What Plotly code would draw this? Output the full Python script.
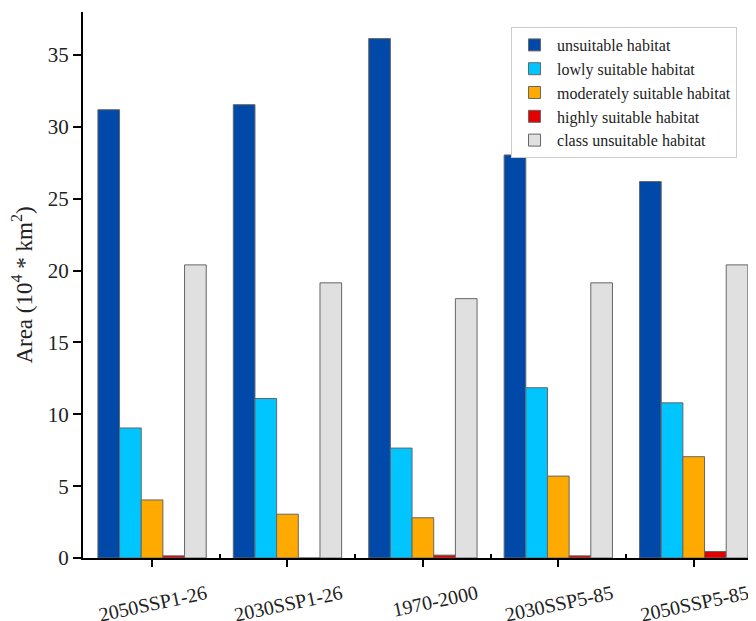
import plotly.graph_objects as go

categories = ["2050SSP1-26", "2030SSP1-26", "1970-2000", "2030SSP5-85", "2050SSP5-85"]
series_names = ["unsuitable habitat", "lowly suitable habitat", "moderately suitable habitat",
                "highly suitable habitat", "class unsuitable habitat"]
unsuitable = [31.2, 31.55, 36.15, 28.05, 26.2]
lowly = [9.05, 11.1, 7.65, 11.85, 10.8]
moderately = [4.04, 3.05, 2.8, 5.7, 7.05]
highly = [0.15, 0.0, 0.2, 0.15, 0.45]
class_unsuitable = [20.4, 19.15, 18.05, 19.15, 20.4]
y_ticks = [0, 5, 10, 15, 20, 25, 30, 35]

colors = ["#0049a8", "#00c5ff", "#ffaa00", "#e30000", "#e0e0e0"]
values = [unsuitable, lowly, moderately, highly, class_unsuitable]

xpos = list(range(len(categories)))
fig = go.Figure()
for name, vals, col in zip(series_names, values, colors):
    fig.add_trace(go.Bar(x=xpos, y=vals, name=name, marker=dict(color=col, line=dict(color="#666666", width=1))))

font = "Liberation Serif, Times New Roman, serif"
fig.update_layout(
    barmode="group", bargap=0.2, bargroupgap=0,
    width=756, height=621,
    margin=dict(l=75, r=8, t=4, b=71),
    plot_bgcolor="white", paper_bgcolor="white",
    font=dict(family=font, size=20, color="#222222"),
    showlegend=True,
    legend=dict(x=0.636, y=0.9725, xanchor="left", yanchor="top", bgcolor="white",
                bordercolor="#cccccc", borderwidth=1, font=dict(size=16, family=font),
                tracegroupgap=0, itemwidth=35),
    xaxis=dict(range=[-0.51, 4.46], tickmode="array", tickvals=xpos, ticktext=categories,
               tickangle=-12, ticks="outside", ticklen=7, tickwidth=2, tickcolor="black",
               showline=True, linecolor="black", linewidth=2, showgrid=False, zeroline=False,
               automargin=False, ticklabelshift=54, ticklabelstandoff=8,
               minor=dict(ticks="inside", tickmode="array", tickvals=[0.5, 1.5, 2.5, 3.5],
                          ticklen=4, tickwidth=2, tickcolor="black", showgrid=False),
               tickfont=dict(size=20, family=font)),
    yaxis=dict(range=[0, 38], tickmode="array", tickvals=y_ticks, ticks="outside", ticklen=8,
               tickwidth=2, tickcolor="black", showline=True, linecolor="black", linewidth=2,
               showgrid=False, zeroline=False, tickfont=dict(size=21, family=font),
               automargin=False,
               title=dict(text="Area (10<sup>4</sup> * km<sup>2</sup>)", font=dict(size=23, family=font),
                          standoff=12)),
)
fig.write_html("out.html")
